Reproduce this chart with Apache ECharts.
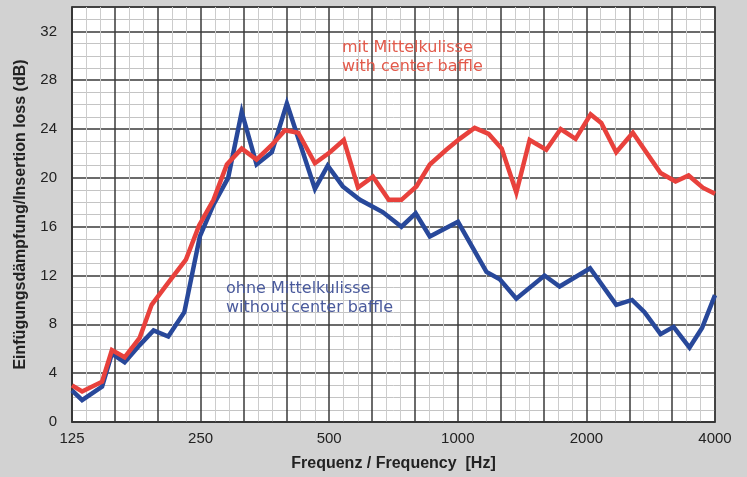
<!DOCTYPE html>
<html>
<head>
<meta charset="utf-8">
<script src="https://cdn.jsdelivr.net/npm/echarts@6/dist/echarts.min.js"></script>
<style>
  html, body { margin: 0; padding: 0; background: #d2d2d2; }
  #chart { width: 747px; height: 477px; }
</style>
</head>
<body>
<div id="chart"></div>
<script>
// frequencies in Hz, insertion loss in dB
const withoutFreq = [125, 132, 147, 155, 166, 180, 194, 210, 229, 249, 268, 290, 312, 338, 367, 398, 463, 496, 538, 590, 667, 738, 797, 860, 1001, 1167, 1254, 1371, 1596, 1731, 2040, 2349, 2558, 2736, 2983, 3200, 3487, 3730, 4000];
const withoutDb = [2.6, 1.8, 2.9, 5.6, 4.9, 6.3, 7.5, 7.0, 9.0, 15.2, 17.8, 20.0, 25.4, 21.1, 22.1, 26.1, 19.1, 21.0, 19.3, 18.2, 17.2, 16.0, 17.1, 15.2, 16.4, 12.3, 11.7, 10.1, 12.0, 11.1, 12.6, 9.6, 10.0, 9.0, 7.2, 7.8, 6.1, 7.7, 10.4];

const withFreq = [125, 132, 147, 155, 166, 180, 192, 212, 231, 248, 268, 288, 312, 338, 367, 394, 423, 463, 502, 541, 584, 633, 689, 738, 800, 860, 940, 1010, 1095, 1181, 1267, 1371, 1473, 1611, 1741, 1887, 2046, 2167, 2349, 2569, 2983, 3234, 3469, 3746, 4000];
const withDb = [3.0, 2.5, 3.3, 5.9, 5.3, 6.9, 9.6, 11.6, 13.3, 16.1, 18.2, 21.1, 22.4, 21.5, 22.7, 23.9, 23.7, 21.2, 22.1, 23.1, 19.2, 20.1, 18.2, 18.2, 19.3, 21.1, 22.3, 23.2, 24.1, 23.6, 22.4, 18.8, 23.1, 22.3, 24.0, 23.2, 25.2, 24.5, 22.1, 23.7, 20.4, 19.7, 20.2, 19.2, 18.7];

const fStart = 125;
const bandCount = 15; // third-octave bands 125 Hz .. 4000 Hz

// position on the x axis in third-octave steps from 125 Hz
function band(f) {
  return 3 * Math.log2(f / fStart);
}

function pairs(freqs, vals) {
  return freqs.map((f, i) => [band(f), vals[i]]);
}

const chart = echarts.init(document.getElementById('chart'));

const option = {
  animation: false,
  backgroundColor: '#d2d2d2',
  grid: {
    left: 72,
    right: 32,
    top: 7,
    bottom: 55,
    outerBoundsMode: 'none',
    show: true,
    backgroundColor: '#ffffff',
    borderColor: '#333',
    borderWidth: 1.5
  },
  xAxis: {
    type: 'value',
    min: 0,
    max: bandCount,
    interval: 1,
    name: 'Frequenz / Frequency  [Hz]',
    nameLocation: 'middle',
    nameGap: 34,
    nameTextStyle: {
      fontFamily: 'Liberation Sans, Arial, sans-serif',
      fontSize: 16,
      fontWeight: 'bold',
      color: '#222'
    },
    axisLine: { show: true, lineStyle: { color: '#333', width: 1.5 } },
    axisTick: { show: false },
    axisLabel: {
      margin: 9,
      fontFamily: 'Liberation Sans, Arial, sans-serif',
      fontSize: 15,
      color: '#222',
      showMinLabel: true,
      showMaxLabel: true,
      formatter: function (v) {
        const r = Math.round(v);
        if (Math.abs(v - r) > 1e-6 || r % 3 !== 0) return '';
        return String(Math.round(fStart * Math.pow(2, r / 3)));
      }
    },
    splitLine: { show: true, lineStyle: { color: '#3a3a3a', width: 1.5 } },
    minorTick: { show: false, splitNumber: 3 },
    minorSplitLine: { show: true, lineStyle: { color: '#cccccc', width: 1 } }
  },
  yAxis: {
    type: 'value',
    min: 0,
    max: 34,
    interval: 4,
    name: 'Einfügungsdämpfung/Insertion loss (dB)',
    nameLocation: 'middle',
    nameGap: 43,
    nameTextStyle: {
      fontFamily: 'Liberation Sans, Arial, sans-serif',
      fontSize: 16,
      fontWeight: 'bold',
      color: '#222'
    },
    axisLine: { show: true, lineStyle: { color: '#333', width: 1.5 } },
    axisTick: { show: false },
    axisLabel: {
      margin: 15,
      fontFamily: 'Liberation Sans, Arial, sans-serif',
      fontSize: 15,
      color: '#222',
      showMaxLabel: false,
      formatter: function (v) {
        return v % 4 === 0 ? String(v) : '';
      }
    },
    splitLine: { show: true, lineStyle: { color: '#3a3a3a', width: 1.5 } },
    minorTick: { show: false, splitNumber: 4 },
    minorSplitLine: { show: true, lineStyle: { color: '#c4c4c4', width: 1 } }
  },
  series: [
    {
      name: 'ohne Mittelkulisse',
      type: 'line',
      showSymbol: false,
      data: pairs(withoutFreq, withoutDb),
      lineStyle: { color: '#28489a', width: 4.5, join: 'miter' },
      itemStyle: { color: '#28489a' },
      z: 3
    },
    {
      name: 'mit Mittelkulisse',
      type: 'line',
      showSymbol: false,
      data: pairs(withFreq, withDb),
      lineStyle: { color: '#e8413c', width: 4.5, join: 'miter' },
      itemStyle: { color: '#e8413c' },
      z: 4
    }
  ],
  graphic: [
    {
      type: 'text',
      left: 342,
      top: 38,
      z: 10,
      style: {
        text: 'mit Mittelkulisse\nwith center baffle',
        font: '16px "DejaVu Sans", sans-serif',
        lineHeight: 19,
        fill: '#e2594a'
      }
    },
    {
      type: 'text',
      left: 226,
      top: 279,
      z: 10,
      style: {
        text: 'ohne Mittelkulisse\nwithout center baffle',
        font: '16px "DejaVu Sans", sans-serif',
        lineHeight: 19,
        fill: '#4a5a9c'
      }
    }
  ]
};

chart.setOption(option);
</script>
</body>
</html>
